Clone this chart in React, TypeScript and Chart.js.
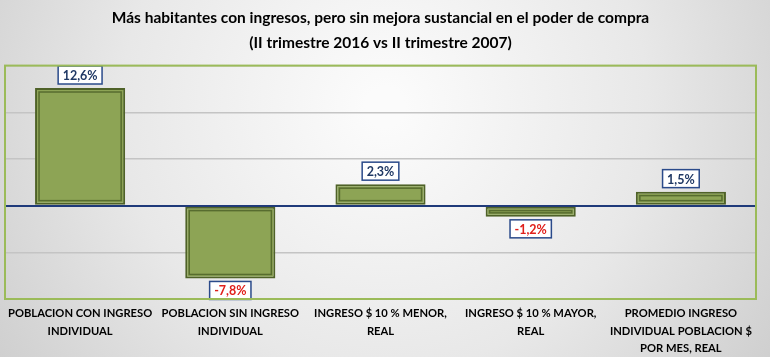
import React, { useEffect, useRef } from "react";
import { Chart, registerables } from "chart.js";

Chart.register(...registerables);

const categories: string[][] = [
  ["POBLACION CON INGRESO", "INDIVIDUAL"],
  ["POBLACION SIN INGRESO", "INDIVIDUAL"],
  ["INGRESO $ 10 % MENOR,", "REAL"],
  ["INGRESO $ 10 % MAYOR,", "REAL"],
  ["PROMEDIO INGRESO", "INDIVIDUAL POBLACION $", "POR MES, REAL"],
];
const values: number[] = [12.6, -7.8, 2.3, -1.2, 1.5];
const titleLines: string[] = [
  "Más habitantes con ingresos, pero sin mejora sustancial en el poder de compra",
  "(II trimestre 2016 vs II trimestre 2007)",
];
const yMin = -10;
const yMax = 15;
const yStep = 5;

const FONT = "Lato, 'Open Sans', sans-serif";

const bgPlugin = {
  id: "bgPlugin",
  beforeDraw(chart: any) {
    const { ctx, width, height } = chart;
    ctx.save();
    const g = ctx.createRadialGradient(width / 2, height * 0.3, 20, width / 2, height * 0.3, width * 0.6);
    g.addColorStop(0, "#fbfbfb");
    g.addColorStop(0.55, "#e8e8e8");
    g.addColorStop(1, "#cfcfcf");
    ctx.fillStyle = g;
    ctx.fillRect(0, 0, width, height);
    ctx.restore();
  },
  afterDraw(chart: any) {
    const { ctx, chartArea } = chart;
    ctx.save();
    ctx.strokeStyle = "#9bbb59";
    ctx.lineWidth = 2;
    ctx.strokeRect(chartArea.left, chartArea.top, chartArea.right - chartArea.left, chartArea.bottom - chartArea.top);
    ctx.restore();
  },
};

const barDecor = {
  id: "barDecor",
  afterDatasetsDraw(chart: any) {
    const { ctx } = chart;
    const meta = chart.getDatasetMeta(0);
    ctx.save();
    meta.data.forEach((bar: any, i: number) => {
      const { x, y, base, width } = bar.getProps(["x", "y", "base", "width"], true);
      const left = x - width / 2;
      const top = Math.min(y, base);
      const h = Math.abs(base - y);
      ctx.strokeStyle = "rgba(70,90,35,0.75)";
      ctx.lineWidth = 1.5;
      ctx.strokeRect(left + 4, top + 4, width - 8, Math.max(h - 8, 1));
      const v = values[i];
      const txt = v.toFixed(1).replace(".", ",") + "%";
      ctx.font = `bold 12.5px ${FONT}`;
      const tw = ctx.measureText(txt).width;
      const bw = tw + 9;
      const bh = 18;
      let by: number;
      if (v >= 0) by = Math.min(y, base) - 4 - bh;
      else by = Math.max(y, base) + 3;
      const bx = x - bw / 2;
      ctx.fillStyle = "#ffffff";
      ctx.fillRect(bx, by, bw, bh);
      ctx.strokeStyle = "#2a4a8a";
      ctx.lineWidth = 1.5;
      ctx.strokeRect(bx, by, bw, bh);
      ctx.fillStyle = v >= 0 ? "#1f3864" : "#e0201b";
      ctx.textAlign = "center";
      ctx.textBaseline = "middle";
      ctx.fillText(txt, x, by + bh / 2 + 1);
    });
    ctx.restore();
  },
};

export default function App() {
  const ref = useRef<HTMLCanvasElement | null>(null);
  useEffect(() => {
    document.body.style.margin = "0";
    const chart = new Chart(ref.current as HTMLCanvasElement, {
      type: "bar",
      data: {
        labels: categories,
        datasets: [
          {
            data: values,
            backgroundColor: "#8da455",
            borderColor: "#4f6228",
            borderWidth: 2,
            borderSkipped: false,
            categoryPercentage: 1,
            barPercentage: 0.6,
          },
        ],
      },
      options: {
        animation: false,
        responsive: false,
        layout: { padding: { left: 5, right: 14, top: 0, bottom: 0 } },
        plugins: {
          legend: { display: false },
          tooltip: { enabled: false },
          title: {
            display: true,
            text: titleLines,
            color: "#000000",
            font: { family: FONT, size: 15.5, weight: "bold", lineHeight: 1.6 },
            padding: { top: 6, bottom: 10 },
          },
        },
        scales: {
          x: {
            grid: { display: false, drawTicks: false },
            border: { display: false },
            afterFit: (scale: any) => {
              scale.height = 58;
            },
            ticks: {
              color: "#000000",
              font: { family: FONT, size: 11.2, weight: "bold", lineHeight: 1.55 },
              padding: 6,
              maxRotation: 0,
              autoSkip: false,
            },
          },
          y: {
            min: yMin,
            max: yMax,
            afterFit: (scale: any) => {
              scale.width = 0;
            },
            ticks: { stepSize: yStep, display: false },
            border: { display: false },
            grid: {
              drawTicks: false,
              color: (c: any) => (c.tick && c.tick.value === 0 ? "#1f3a7a" : "#c4c4c4"),
              lineWidth: (c: any) => (c.tick && c.tick.value === 0 ? 2 : 1.5),
            },
          },
        },
      },
      plugins: [bgPlugin, barDecor],
    });
    return () => chart.destroy();
  }, []);
  return (
    <div style={{ position: "absolute", left: 0, top: 0, width: 770, height: 357 }}>
      <canvas ref={ref} width={770} height={357} style={{ width: 770, height: 357 }} />
    </div>
  );
}
